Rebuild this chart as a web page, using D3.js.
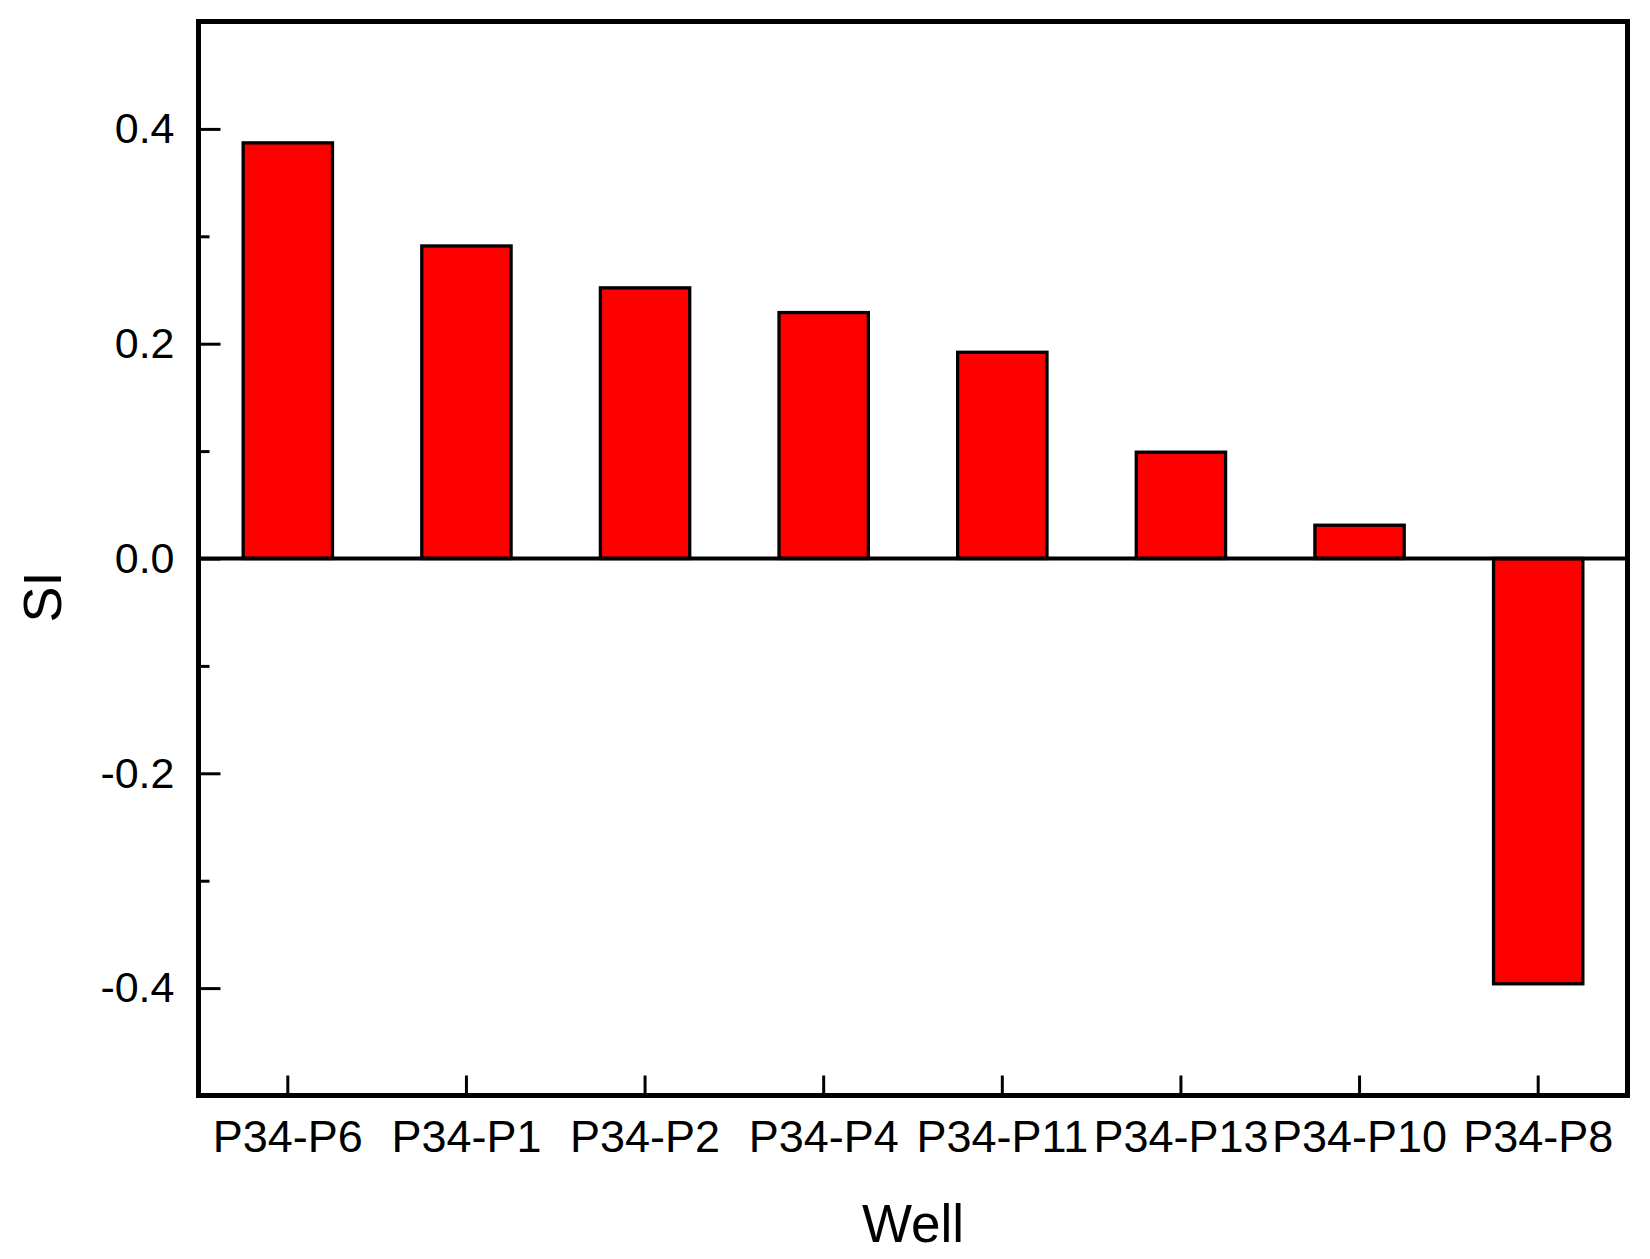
<!DOCTYPE html>
<html>
<head>
<meta charset="utf-8">
<script src="https://cdn.jsdelivr.net/npm/d3@7"></script>
<style>
  html, body { margin: 0; padding: 0; background: #fff; }
  svg { display: block; font-family: "Liberation Sans", Arial, sans-serif; }
</style>
</head>
<body>
<svg id="chart" width="1650" height="1259"></svg>
<script>
const wells = ["P34-P6", "P34-P1", "P34-P2", "P34-P4", "P34-P11", "P34-P13", "P34-P10", "P34-P8"];
const siValues = [0.387, 0.291, 0.252, 0.229, 0.192, 0.099, 0.031, -0.396];
const majorTicks = [-0.4, -0.2, 0.0, 0.2, 0.4];
const minorTicks = [-0.3, -0.1, 0.1, 0.3];
const xTitle = "Well";
const yTitle = "SI";

const svg = d3.select("#chart");
const L = 198.5, R = 1627.5, T = 21.5, B = 1095.5;

const x = d3.scaleBand().domain(wells).range([L, R]).paddingInner(0.5).paddingOuter(0.25);
const xc = d3.scaleBand().domain(wells).range([L, R]);
const y = d3.scaleLinear().domain([-0.5, 0.5]).range([B, T]);

// bars
svg.append("g").selectAll("rect").data(wells).join("rect")
  .attr("x", d => x(d))
  .attr("width", x.bandwidth())
  .attr("y", (d, i) => y(Math.max(0, siValues[i])))
  .attr("height", (d, i) => Math.abs(y(siValues[i]) - y(0)))
  .attr("fill", "#ff0000")
  .attr("stroke", "#000")
  .attr("stroke-width", 3.3);

// zero line
svg.append("line")
  .attr("x1", L).attr("x2", R)
  .attr("y1", y(0)).attr("y2", y(0))
  .attr("stroke", "#000").attr("stroke-width", 4);

// y axis major
const yAxis = d3.axisLeft(y).tickValues(majorTicks).tickSize(-22).tickPadding(24)
  .tickFormat(d3.format(".1f"));
const gy = svg.append("g").attr("transform", `translate(${L},0)`).call(yAxis);
gy.select(".domain").remove();
gy.selectAll(".tick line").attr("stroke", "#000").attr("stroke-width", 3);
gy.selectAll(".tick text").attr("font-size", 43).attr("fill", "#000")
  .attr("font-family", "Liberation Sans, Arial, sans-serif")
  .text(d => d3.format(".1f")(d).replace("−", "-"));

// y axis minor
const yAxisMinor = d3.axisLeft(y).tickValues(minorTicks).tickSize(-11).tickFormat("");
const gym = svg.append("g").attr("transform", `translate(${L},0)`).call(yAxisMinor);
gym.select(".domain").remove();
gym.selectAll(".tick line").attr("stroke", "#000").attr("stroke-width", 3);

// x axis
const xAxis = d3.axisBottom(xc).tickSize(-20).tickPadding(25);
const gx = svg.append("g").attr("transform", `translate(0,${B})`).call(xAxis);
gx.select(".domain").remove();
gx.selectAll(".tick line").attr("stroke", "#000").attr("stroke-width", 3);
gx.selectAll(".tick text").attr("font-size", 45).attr("fill", "#000")
  .attr("font-family", "Liberation Sans, Arial, sans-serif");

// frame
svg.append("rect")
  .attr("x", L).attr("y", T).attr("width", R - L).attr("height", B - T)
  .attr("fill", "none").attr("stroke", "#000").attr("stroke-width", 5);

// axis titles
svg.append("text")
  .attr("x", (L + R) / 2).attr("y", 1242)
  .attr("text-anchor", "middle")
  .attr("font-size", 53).attr("fill", "#000")
  .text(xTitle);

svg.append("text")
  .attr("transform", "translate(61,597) rotate(-90)")
  .attr("text-anchor", "middle")
  .attr("font-size", 54).attr("fill", "#000")
  .text(yTitle);
</script>
</body>
</html>
